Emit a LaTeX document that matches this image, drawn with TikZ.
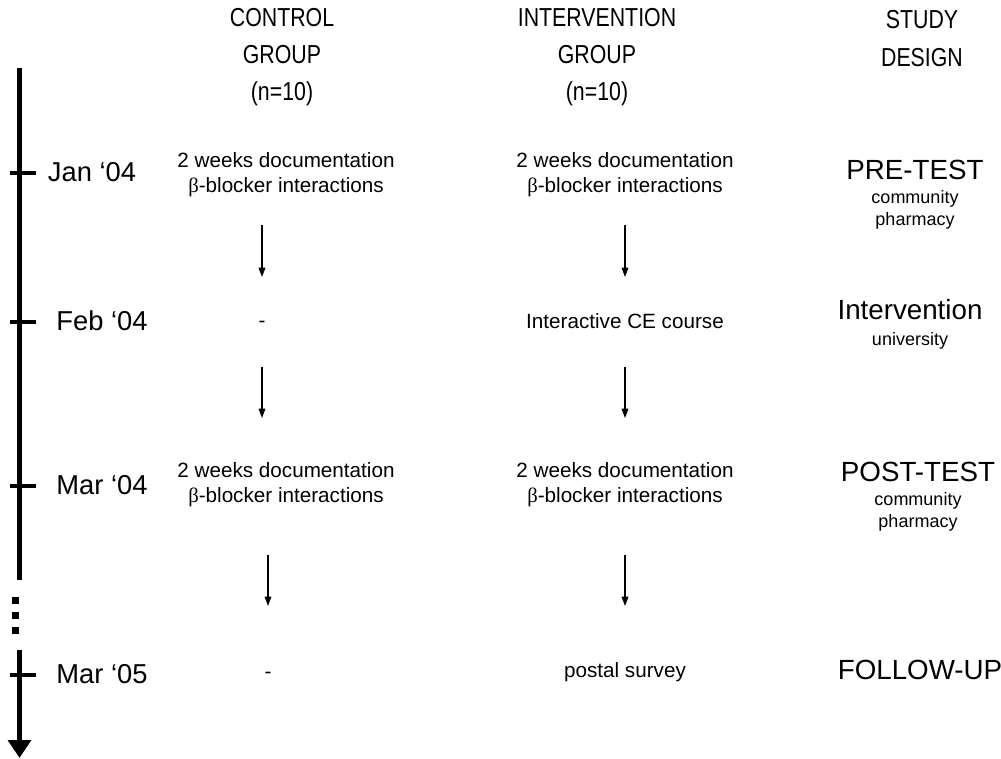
\documentclass[tikz,border=0pt]{standalone}
\usepackage{fontspec}
\setmainfont{Liberation Sans}
\newfontfamily\symb{Liberation Serif}
\newfontfamily\narrow{Liberation Sans}[FakeStretch=0.82]
\usetikzlibrary{arrows.meta,positioning}
\begin{document}
\begin{tikzpicture}[x=0.75pt,y=-0.75pt,
  head/.style={font=\narrow\fontsize{19.5}{28}\selectfont,align=center},
  date/.style={font=\fontsize{20.5}{22}\selectfont},
  task/.style={font=\fontsize{15.5}{18.5}\selectfont,align=center},
  phase/.style={font=\fontsize{20.8}{22}\selectfont},
  place/.style={font=\fontsize{13.5}{16.5}\selectfont,align=center},
  flow/.style={-{Triangle[width=5pt,length=7pt]},line width=0.8pt},
  axis/.style={line width=3.2pt}]
\useasboundingbox (0,0) rectangle (1001,758);
% column heads
\node[head](ctrl) at (282,57){CONTROL\\GROUP\\(n=10)};
\node[head](intv) at (597,57){INTERVENTION\\GROUP\\(n=10)};
\node[head](design) at (922,38.5){STUDY\\DESIGN};
% time axis
\coordinate (top) at (19.5,68);
\coordinate (brk) at (19.5,580);
\coordinate (rest) at (19.5,650);
\coordinate (tip) at (19.5,758);
\draw[axis] (top) -- (brk);
\draw[axis,-{Triangle[width=17pt,length=13.5pt]}] (rest) -- (tip);
\foreach \y in {173,322,486,675}
  \draw[axis] (10,\y) -- (36,\y);
\foreach \y in {600,615,630}
  \fill (12,\y-3.5) rectangle +(7,7);
\node[date](jan) at (92,172){Jan `04};
\node[date](feb) at (102,321){Feb `04};
\node[date](mar) at (102,485){Mar `04};
\node[date](mar5) at (102,674){Mar `05};
% control group
\node[task](c1) at (286,175){2 weeks documentation\\{\symb β}-blocker interactions};
\node[task](c2) at (262,324){-};
\node[task](c3) at (286,485){2 weeks documentation\\{\symb β}-blocker interactions};
\node[task](c4) at (268,675){-};
% intervention group
\node[task](i1) at (625,175){2 weeks documentation\\{\symb β}-blocker interactions};
\node[task](i2) at (625,321){Interactive CE course};
\node[task](i3) at (625,485){2 weeks documentation\\{\symb β}-blocker interactions};
\node[task](i4) at (625,672){postal survey};
% study design
\node[phase](pre) at (915,170){PRE-TEST};
\node[place,below=1pt of pre](prep){community\\pharmacy};
\node[phase](mid) at (910,310){Intervention};
\node[place,below=2pt of mid](midp){university};
\node[phase](post) at (918,472){POST-TEST};
\node[place,below=1pt of post](postp){community\\pharmacy};
\node[phase](fol) at (920,670){FOLLOW-UP};
% arrows
\coordinate (ca1) at (262,225); \coordinate (cb1) at (262,277);
\coordinate (ca2) at (262,367); \coordinate (cb2) at (262,418);
\coordinate (ca3) at (268,555); \coordinate (cb3) at (268,606);
\coordinate (ia1) at (625,225); \coordinate (ib1) at (625,277);
\coordinate (ia2) at (625,367); \coordinate (ib2) at (625,418);
\coordinate (ia3) at (625,555); \coordinate (ib3) at (625,606);
\draw[flow] (ca1) -- (cb1);
\draw[flow] (ca2) -- (cb2);
\draw[flow] (ca3) -- (cb3);
\draw[flow] (ia1) -- (ib1);
\draw[flow] (ia2) -- (ib2);
\draw[flow] (ia3) -- (ib3);
\end{tikzpicture}
\end{document}
